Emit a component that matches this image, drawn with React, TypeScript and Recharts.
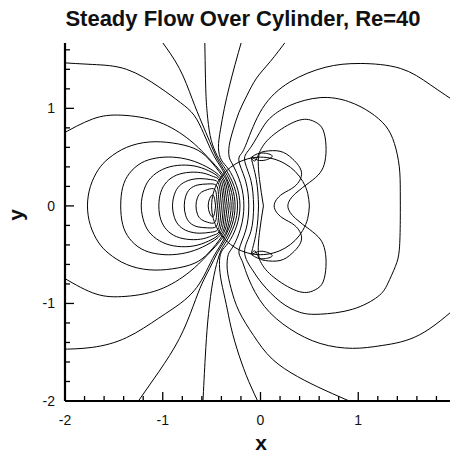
import React from 'react';
import { LineChart, Line, XAxis, YAxis } from 'recharts';

type Pt = [number, number];

const xTicks = [-2, -1.8, -1.6, -1.4, -1.2, -1, -0.8, -0.6, -0.4, -0.2, 0, 0.2, 0.4, 0.6, 0.8, 1, 1.2, 1.4, 1.6, 1.8, 2];
const yTicks = [-2, -1.8, -1.6, -1.4, -1.2, -1, -0.8, -0.6, -0.4, -0.2, 0, 0.2, 0.4, 0.6, 0.8, 1, 1.2, 1.4, 1.6];

// cylinder outline, r = 0.5
const cylinder: Pt[] = [
  [0.5, 0], [0.483, 0.129], [0.433, 0.25], [0.354, 0.354], [0.25, 0.433], [0.129, 0.483], [0, 0.5],
  [-0.129, 0.483], [-0.25, 0.433], [-0.354, 0.354], [-0.433, 0.25], [-0.483, 0.129], [-0.5, 0],
  [-0.483, -0.129], [-0.433, -0.25], [-0.354, -0.354], [-0.25, -0.433], [-0.129, -0.483], [0, -0.5],
  [0.129, -0.483], [0.25, -0.433], [0.354, -0.354], [0.433, -0.25], [0.483, -0.129], [0.5, 0],
];

// closed levels around the front stagnation point
const front8: Pt[] = [[-0.46, 0], [-0.468, -0.062], [-0.487, -0.112], [-0.52, -0.075], [-0.535, 0], [-0.52, 0.075], [-0.487, 0.112], [-0.468, 0.062], [-0.46, 0]];
const front7: Pt[] = [[-0.44, 0], [-0.449, -0.094], [-0.47, -0.171], [-0.54, -0.168], [-0.605, -0.14], [-0.645, -0.085], [-0.66, 0], [-0.645, 0.085], [-0.605, 0.14], [-0.54, 0.168], [-0.47, 0.171], [-0.449, 0.094], [-0.44, 0]];
const front6: Pt[] = [[-0.42, 0], [-0.43, -0.116], [-0.453, -0.211], [-0.54, -0.225], [-0.64, -0.215], [-0.72, -0.175], [-0.765, -0.1], [-0.78, 0], [-0.765, 0.1], [-0.72, 0.175], [-0.64, 0.215], [-0.54, 0.225], [-0.453, 0.211], [-0.43, 0.116], [-0.42, 0]];
const front5: Pt[] = [[-0.4, 0], [-0.411, -0.133], [-0.437, -0.242], [-0.51, -0.27], [-0.62, -0.28], [-0.74, -0.26], [-0.83, -0.205], [-0.88, -0.12], [-0.9, 0], [-0.88, 0.12], [-0.83, 0.205], [-0.74, 0.26], [-0.62, 0.28], [-0.51, 0.27], [-0.437, 0.242], [-0.411, 0.133], [-0.4, 0]];
const front4: Pt[] = [[-0.38, 0], [-0.393, -0.146], [-0.424, -0.265], [-0.48, -0.3], [-0.58, -0.335], [-0.72, -0.345], [-0.86, -0.315], [-0.96, -0.245], [-1.02, -0.14], [-1.04, 0], [-1.02, 0.14], [-0.96, 0.245], [-0.86, 0.315], [-0.72, 0.345], [-0.58, 0.335], [-0.48, 0.3], [-0.424, 0.265], [-0.393, 0.146], [-0.38, 0]];
const front3: Pt[] = [[-0.36, 0], [-0.377, -0.154], [-0.415, -0.28], [-0.53, -0.36], [-0.68, -0.41], [-0.85, -0.415], [-1.0, -0.375], [-1.12, -0.29], [-1.19, -0.17], [-1.22, 0], [-1.19, 0.17], [-1.12, 0.29], [-1.0, 0.375], [-0.85, 0.415], [-0.68, 0.41], [-0.53, 0.36], [-0.415, 0.28], [-0.377, 0.154], [-0.36, 0]];
const front2: Pt[] = [[-0.34, 0], [-0.36, -0.162], [-0.405, -0.294], [-0.55, -0.4], [-0.72, -0.47], [-0.9, -0.5], [-1.07, -0.49], [-1.22, -0.44], [-1.34, -0.335], [-1.41, -0.19], [-1.43, 0], [-1.41, 0.19], [-1.34, 0.335], [-1.22, 0.44], [-1.07, 0.49], [-0.9, 0.5], [-0.72, 0.47], [-0.55, 0.4], [-0.405, 0.294], [-0.36, 0.162], [-0.34, 0]];
const front1: Pt[] = [[-0.32, 0], [-0.342, -0.169], [-0.394, -0.308], [-0.53, -0.48], [-0.68, -0.59], [-0.9, -0.645], [-1.14, -0.655], [-1.37, -0.6], [-1.55, -0.49], [-1.66, -0.37], [-1.74, -0.2], [-1.77, 0], [-1.74, 0.2], [-1.66, 0.37], [-1.55, 0.49], [-1.37, 0.6], [-1.14, 0.655], [-0.9, 0.645], [-0.68, 0.59], [-0.53, 0.48], [-0.394, 0.308], [-0.342, 0.169], [-0.32, 0]];

// open levels leaving through the plot edges
const sideB: Pt[] = [[-2.06, 0.72], [-1.72, 0.89], [-1.42, 0.93], [-1.04, 0.86], [-0.73, 0.68], [-0.55, 0.51], [-0.383, 0.321], [-0.325, 0.177], [-0.3, 0], [-0.325, -0.177], [-0.383, -0.321], [-0.55, -0.51], [-0.73, -0.68], [-1.04, -0.86], [-1.42, -0.93], [-1.72, -0.89], [-2.06, -0.71]];
const sideA: Pt[] = [[-2.06, 1.47], [-1.72, 1.45], [-1.37, 1.4], [-1.04, 1.22], [-0.82, 1.06], [-0.68, 0.93], [-0.58, 0.74], [-0.49, 0.54], [-0.42, 0.42], [-0.372, 0.335], [-0.308, 0.184], [-0.28, 0], [-0.308, -0.184], [-0.372, -0.335], [-0.42, -0.42], [-0.49, -0.54], [-0.58, -0.72], [-0.68, -0.87], [-0.82, -1.0], [-1.04, -1.15], [-1.37, -1.35], [-1.72, -1.45], [-2.06, -1.47]];
const fanE: Pt[] = [[-1.02, 1.7], [-0.83, 1.41], [-0.7, 1.1], [-0.6, 0.85], [-0.52, 0.66], [-0.44, 0.48], [-0.36, 0.347], [-0.29, 0.191], [-0.26, 0], [-0.29, -0.191], [-0.36, -0.347], [-0.44, -0.48], [-0.52, -0.64], [-0.6, -0.8], [-0.69, -1.03], [-0.83, -1.36], [-1.04, -1.7], [-1.27, -2.03]];
const fan1: Pt[] = [[-0.57, 1.7], [-0.56, 1.2], [-0.545, 0.95], [-0.515, 0.72], [-0.46, 0.55], [-0.4, 0.44], [-0.347, 0.36], [-0.269, 0.198], [-0.235, 0], [-0.269, -0.198], [-0.347, -0.36], [-0.4, -0.45], [-0.45, -0.6], [-0.5, -0.85], [-0.54, -1.19], [-0.565, -1.55], [-0.59, -2.03]];
const fan2: Pt[] = [[-0.19, 1.7], [-0.26, 1.45], [-0.32, 1.22], [-0.37, 1.0], [-0.41, 0.78], [-0.43, 0.6], [-0.4, 0.47], [-0.328, 0.377], [-0.245, 0.207], [-0.21, 0], [-0.245, -0.207], [-0.328, -0.377], [-0.4, -0.47], [-0.42, -0.6], [-0.4, -0.78], [-0.35, -1.01], [-0.3, -1.25], [-0.22, -1.53], [-0.12, -1.8], [-0.01, -2.04]];
const fan3: Pt[] = [[0.27, 1.7], [0.1, 1.48], [-0.04, 1.31], [-0.14, 1.13], [-0.22, 0.96], [-0.28, 0.78], [-0.32, 0.62], [-0.32, 0.5], [-0.28, 0.415], [-0.203, 0.228], [-0.17, 0], [-0.203, -0.228], [-0.28, -0.415], [-0.33, -0.5], [-0.34, -0.65], [-0.3, -0.85], [-0.22, -1.08], [-0.07, -1.33], [0.12, -1.57], [0.38, -1.75], [0.66, -1.89], [1.0, -2.04]];
const fan4: Pt[] = [[2.05, 1.03], [1.74, 1.24], [1.43, 1.41], [1.02, 1.46], [0.66, 1.42], [0.3, 1.27], [0.02, 1.0], [-0.14, 0.65], [-0.2, 0.53], [-0.219, 0.449], [-0.15, 0.247], [-0.12, 0], [-0.15, -0.247], [-0.219, -0.449], [-0.19, -0.56], [-0.12, -0.75], [0.04, -1.03], [0.3, -1.26], [0.61, -1.41], [0.94, -1.46], [1.25, -1.43], [1.63, -1.32], [2.05, -1.0]];

// closed levels wrapping round the rear of the cylinder
const rear5: Pt[] = [[-0.07, 0], [-0.098, -0.26], [-0.163, -0.473], [-0.08, -0.66], [0.02, -0.8], [0.2, -0.98], [0.4, -1.09], [0.61, -1.11], [0.94, -1.06], [1.2, -0.93], [1.3, -0.8], [1.38, -0.62], [1.42, -0.45], [1.43, -0.15], [1.43, 0.15], [1.42, 0.4], [1.37, 0.64], [1.28, 0.82], [1.12, 0.96], [0.9, 1.07], [0.61, 1.11], [0.3, 1.03], [0.12, 0.92], [0.02, 0.8], [-0.1, 0.6], [-0.163, 0.473], [-0.098, 0.26], [-0.07, 0]];
const rear6: Pt[] = [[-0.02, 0], [-0.043, -0.27], [-0.095, -0.491], [-0.06, -0.46], [0.01, -0.59], [0.16, -0.75], [0.4, -0.88], [0.56, -0.86], [0.64, -0.78], [0.67, -0.62], [0.66, -0.46], [0.61, -0.34], [0.5, -0.24], [0.36, -0.13], [0.28, 0], [0.36, 0.13], [0.5, 0.24], [0.61, 0.34], [0.66, 0.46], [0.67, 0.62], [0.64, 0.78], [0.56, 0.86], [0.4, 0.88], [0.16, 0.75], [0.01, 0.59], [-0.06, 0.46], [-0.095, 0.491], [-0.043, 0.27], [-0.02, 0]];
const rear7: Pt[] = [[0.03, 0], [-0.01, -0.27], [-0.02, -0.5], [0.05, -0.56], [0.2, -0.56], [0.33, -0.48], [0.42, -0.34], [0.35, -0.2], [0.22, -0.12], [0.14, 0], [0.22, 0.12], [0.35, 0.2], [0.42, 0.34], [0.33, 0.48], [0.2, 0.56], [0.05, 0.56], [-0.02, 0.5], [-0.01, 0.27], [0.03, 0]];

// small suction loops on the shoulders
const shoulderTop: Pt[] = [[-0.09, 0.5], [-0.03, 0.535], [0.05, 0.54], [0.12, 0.51], [0.05, 0.47], [-0.03, 0.47], [-0.09, 0.5]];
const shoulderBottom: Pt[] = [[-0.09, -0.5], [-0.03, -0.535], [0.05, -0.54], [0.12, -0.51], [0.05, -0.47], [-0.03, -0.47], [-0.09, -0.5]];

const levels: Pt[][] = [
  front8, front7, front6, front5, front4, front3, front2, front1,
  sideB, sideA, fanE, fan1, fan2, fan3, fan4,
  rear5, rear6, rear7, shoulderTop, shoulderBottom, cylinder,
];

const FONT = '"Liberation Sans", Arial, Helvetica, sans-serif';

const isMajor = (v: number) => Math.abs(v - Math.round(v)) < 1e-6;

const XTick = (props: any) => {
  const { x, y, payload } = props;
  const v = payload.value as number;
  const major = isMajor(v);
  return (
    <g>
      <line x1={x} x2={x} y1={y} y2={y - (major ? 9 : 5)} stroke="#000" strokeWidth={1.3} />
      {major && (
        <text x={x} y={y + 24} textAnchor="middle" fontSize={14} fontFamily={FONT} fill="#111">
          {Math.round(v)}
        </text>
      )}
    </g>
  );
};

const YTick = (props: any) => {
  const { x, y, payload } = props;
  const v = payload.value as number;
  const major = isMajor(v);
  return (
    <g>
      <line x1={x} x2={x + (major ? 9 : 5)} y1={y} y2={y} stroke="#000" strokeWidth={1.3} />
      {major && (
        <text x={x - 10} y={y + 5} textAnchor="end" fontSize={14} fontFamily={FONT} fill="#111">
          {Math.round(v)}
        </text>
      )}
    </g>
  );
};

export default function App() {
  return (
    <div style={{ position: 'relative', width: 458, height: 446 }}>
      <LineChart width={458} height={446} margin={{ top: 35, right: 10, bottom: 0, left: 0 }}>
        <XAxis
          type="number"
          dataKey="x"
          domain={[-2, 2]}
          allowDataOverflow
          ticks={xTicks}
          interval={0}
          height={53}
          tickSize={0}
          tickMargin={0}
          tickLine={false}
          tick={<XTick />}
          axisLine={{ stroke: '#000', strokeWidth: 2.2 }}
        />
        <YAxis
          type="number"
          dataKey="y"
          domain={[-2, 1.67]}
          allowDataOverflow
          ticks={yTicks}
          interval={0}
          width={57}
          tickSize={0}
          tickMargin={0}
          tickLine={false}
          tick={<YTick />}
          axisLine={{ stroke: '#000', strokeWidth: 2.2 }}
        />
        {levels.map((pts, i) => (
          <Line
            key={i}
            data={pts.map(([x, y]) => ({ x, y }))}
            dataKey="y"
            type="natural"
            stroke="#000"
            strokeWidth={1}
            dot={false}
            activeDot={false}
            isAnimationActive={false}
          />
        ))}
      </LineChart>
      <svg
        width={458}
        height={454}
        style={{ position: 'absolute', left: -8, top: -8, pointerEvents: 'none', overflow: 'visible' }}
      >
        <text x={243} y={26} textAnchor="middle" fontSize={22} fontWeight="bold" fontFamily={FONT} fill="#111">
          Steady Flow Over Cylinder, Re=40
        </text>
        <text x={261} y={450} textAnchor="middle" fontSize={21} fontWeight="bold" fontFamily={FONT} fill="#111">
          x
        </text>
        <text x={23} y={215} textAnchor="middle" fontSize={21} fontWeight="bold" fontFamily={FONT} fill="#111" transform="rotate(-90 23 215)">
          y
        </text>
      </svg>
    </div>
  );
}
